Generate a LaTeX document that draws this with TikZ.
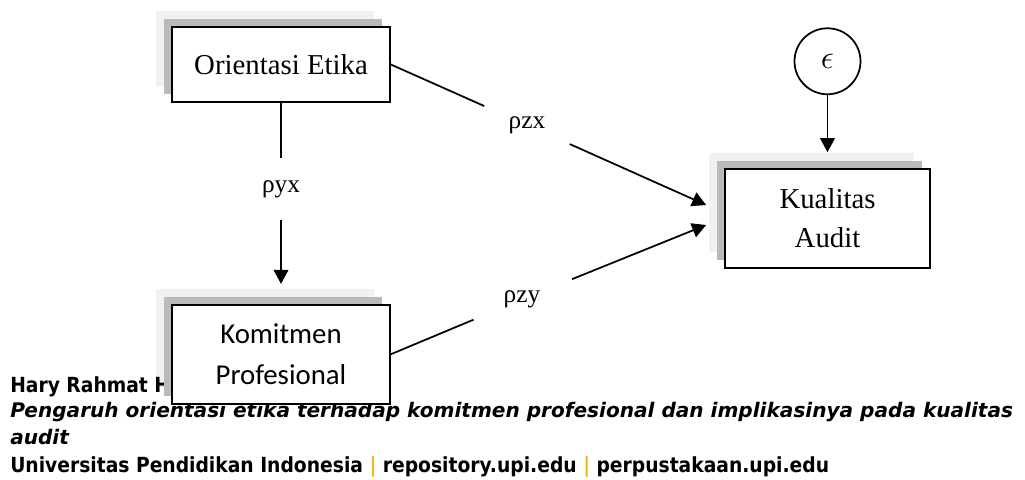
\documentclass[tikz,border=0pt]{standalone}
\usepackage{fontspec}
\setmainfont{Liberation Serif}
\newfontfamily\calibrifont{Carlito}
\newfontfamily\footfont{DejaVu Sans Condensed}
\newfontfamily\footitfont{DejaVu Sans}
\usetikzlibrary{arrows.meta,positioning,shadows}
\definecolor{ShadeDark}{HTML}{BABABA}
\definecolor{UpiGold}{HTML}{F5B70A}

\begin{document}
\begin{tikzpicture}[x=0.75pt, y=-0.75pt, every node/.style={font=\fontsize{21.6}{29.25}\selectfont}, box/.style={draw, line width=1.3pt, fill=white, align=center, inner sep=0pt, copy shadow={shadow xshift=-12pt, shadow yshift=12pt, draw=none, fill=black, fill opacity=0.055}, copy shadow={shadow xshift=-6pt, shadow yshift=6pt, draw=none, fill=ShadeDark}}, coef/.style={inner sep=0pt, font=\fontsize{19}{21}\selectfont}, arrow/.style={-{Triangle[length=10.5pt, width=11pt]}, line width=1.3pt}, link/.style={line width=1.3pt}, foot/.style={anchor=base west, inner sep=0pt, font=\footfont\bfseries\fontsize{15.6}{18}\selectfont}, footit/.style={foot, font=\footitfont\bfseries\itshape\fontsize{15.05}{18}\selectfont}]
\useasboundingbox (0,0) rectangle (1025,479);
% footer lines, lying under the boxes
\node[foot] (author) at (10,392) {Hary Rahmat H};
\node[footit] (title) at (10,417) {Pengaruh orientasi etika terhadap komitmen profesional dan implikasinya pada kualitas};
\node[footit] (titlerest) at (10,444) {audit};
\node[foot] (univ) at (10,472) {Universitas Pendidikan Indonesia \textcolor{UpiGold}{|} repository.upi.edu \textcolor{UpiGold}{|} perpustakaan.upi.edu};
% variables
\node[box, minimum width=163.5pt, minimum height=56.25pt] (oe) at (281,64.5) {Orientasi Etika};
\node[box, minimum width=163.5pt, minimum height=74.25pt, below=150.75pt of oe, font=\calibrifont\fontsize{21.6}{30.75}\selectfont] (kp) {Komitmen\\Profesional};
\node[box, minimum width=153.75pt, minimum height=74.25pt] (ka) at (827.5,218.5) {Kualitas\\Audit};
\node[draw, circle, line width=1.3pt, minimum size=49.5pt, inner sep=0pt, above=54.75pt of ka, font=\fontsize{26}{28}\selectfont] (eps) {$\epsilon$};
\coordinate (in1) at ([shift={(-18,-13.5)}]ka.west);
\coordinate (in2) at ([shift={(-18,6.5)}]ka.west);
% path coefficients
\node[coef, minimum height=46.5pt] (lyx) at (281,189) {ρyx};
\node[coef, minimum width=63.75pt, minimum height=28.5pt] (lzx) at (527,125) {ρzx};
\node[coef, minimum width=75pt, minimum height=30pt] (lzy) at (522,299.4) {ρzy};
\draw[link] (oe) -- (lyx); \draw[arrow, shorten >=15pt] (lyx) -- (lyx |- kp.north);
\draw[link] (oe.east) -- (lzx); \draw[arrow] (lzx) -- (in1);
\draw[link] (kp.east) -- (lzy); \draw[arrow] (lzy) -- (in2);
\draw[arrow, shorten >=12pt] (eps) -- (eps |- ka.north);
\end{tikzpicture}
\end{document}
